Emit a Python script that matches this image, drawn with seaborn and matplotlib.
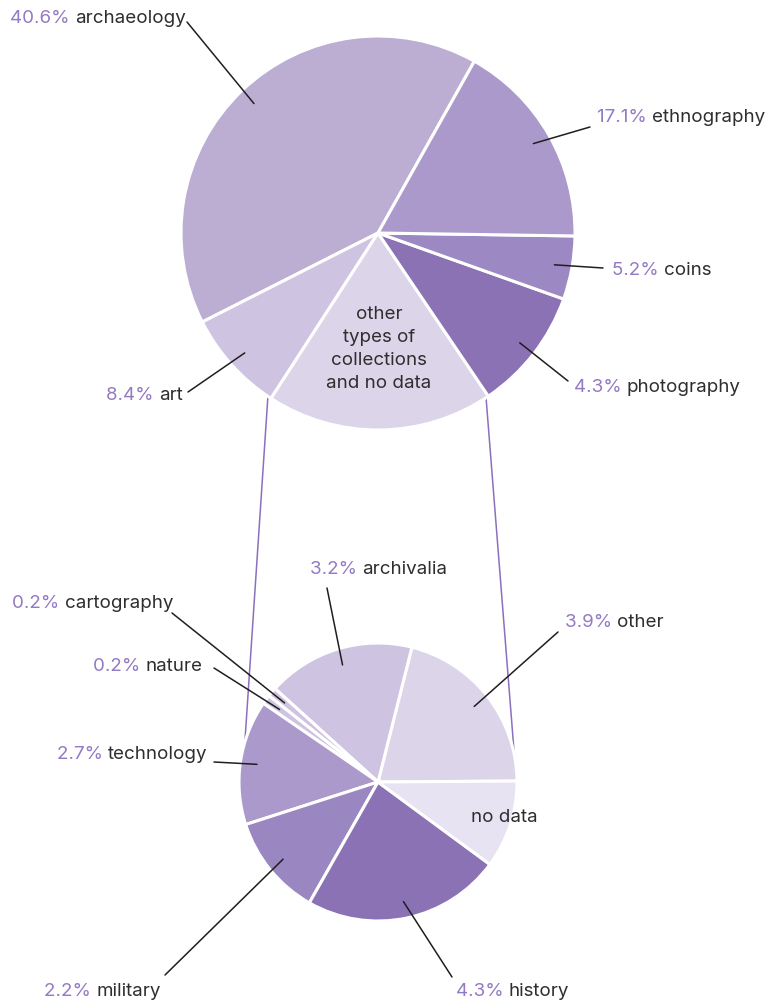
import numpy as np
import matplotlib
matplotlib.use("Agg")
import matplotlib.pyplot as plt
import seaborn as sns

# ---- data ---------------------------------------------------------------
# main pie (counter-clockwise from the top-right edge of "archaeology")
main_names = ["archaeology", "art", "other types", "photography", "coins", "ethnography"]
main_shares = [40.6, 8.4, 18.6, 10.1, 5.2, 17.1]
main_pct_labels = ["40.6%", "8.4%", None, "4.3%", "5.2%", "17.1%"]

# breakdown of "other types of collections and no data"
sub_names = ["other", "archivalia", "cartography", "nature", "technology",
             "military", "history", "no data"]
sub_shares = [3.9, 3.2, 0.2, 0.2, 2.7, 2.2, 4.3, 1.9]
sub_pct_labels = ["3.9%", "3.2%", "0.2%", "0.2%", "2.7%", "2.2%", "4.3%", None]

# ---- style --------------------------------------------------------------
sns.set_theme(style="white")
plt.rcParams["font.family"] = ["Inter", "DejaVu Sans"]

W, H = 773, 1005
PCT_COLOR = "#9479c4"
TEXT_COLOR = "#2e2e2e"
LINK_COLOR = "#8a70bd"
FS = 13.5

main_colors = ["#bcaed3", "#cec4e1", "#dcd5ea", "#8b72b4", "#9c88c2", "#aa99ca"]
sub_colors = ["#dcd5ea", "#cec4e1", "#cec4e1", "#cec4e1", "#aa99ca",
              "#9a86c0", "#8b72b4", "#e8e3f2"]

fig = plt.figure(figsize=(W / 100, H / 100), dpi=100)
ax = fig.add_axes([0, 0, 1, 1])


def up(y):
    """convert a top-down pixel row into the axes' y-up coordinate"""
    return H - y


main_center, main_r = (378, up(233)), 197
sub_center, sub_r = (378, up(782)), 139

# connector lines between the two pies (drawn beneath the wedges)
ax.plot([268, 243], [up(395), up(770)], color=LINK_COLOR, lw=1.1, zorder=0.5)
ax.plot([486, 516], [up(397), up(776)], color=LINK_COLOR, lw=1.1, zorder=0.5)

wedge_kw = dict(edgecolor="white", linewidth=2.2)
main_wedges, _ = ax.pie(main_shares, colors=main_colors, startangle=60.7,
                        counterclock=True, center=main_center, radius=main_r,
                        wedgeprops=wedge_kw, normalize=True)
sub_wedges, _ = ax.pie(sub_shares, colors=sub_colors, startangle=0.4,
                       counterclock=True, center=sub_center, radius=sub_r,
                       wedgeprops=wedge_kw, normalize=True)

ax.set_xlim(0, W)
ax.set_ylim(0, H)
ax.set_aspect("auto")
ax.axis("off")

fig.canvas.draw()
renderer = fig.canvas.get_renderer()


def two_tone(x, y, pct, name):
    """percentage in purple followed by the category name in dark grey"""
    t = ax.text(x, y, pct + " ", color=PCT_COLOR, fontsize=FS,
                ha="left", va="center")
    bb = t.get_window_extent(renderer=renderer)
    ax.text(bb.x1, y, name, color=TEXT_COLOR, fontsize=FS,
            ha="left", va="center")


def leader(wedge, frac, start):
    """line from a label to a point inside the wedge on its mid angle"""
    mid = np.deg2rad((wedge.theta1 + wedge.theta2) / 2)
    cx, cy = wedge.center
    r = wedge.r * frac
    ax.plot([start[0], cx + r * np.cos(mid)], [start[1], cy + r * np.sin(mid)],
            color="#1f1f1f", lw=1.1, zorder=5)


# label anchors (left x, centre row) and leader starting points
main_label_pos = {
    "archaeology": (10, 18, (187, 22)),
    "art": (106, 395, (188, 392)),
    "photography": (574, 387, (568, 381)),
    "coins": (612, 270, (603, 268)),
    "ethnography": (597, 117, (590, 127)),
}
sub_label_pos = {
    "other": (565, 622, (558, 632)),
    "archivalia": (310, 569, (327, 588)),
    "cartography": (12, 603, (172, 613)),
    "nature": (93, 666, (214, 668)),
    "technology": (57, 754, (214, 762)),
    "military": (44, 991, (165, 975)),
    "history": (456, 991, (452, 977)),
}

for w, name, pct in zip(main_wedges, main_names, main_pct_labels):
    if name in main_label_pos:
        lx, ly, (sx, sy) = main_label_pos[name]
        two_tone(lx, up(ly), pct, name)
        leader(w, 0.91, (sx, up(sy)))

for w, name, pct in zip(sub_wedges, sub_names, sub_pct_labels):
    if name in sub_label_pos:
        lx, ly, (sx, sy) = sub_label_pos[name]
        two_tone(lx, up(ly), pct, name)
        leader(w, 0.88, (sx, up(sy)))

# text inside the wedges
ax.text(379, up(349), "other\ntypes of\ncollections\nand no data",
        ha="center", va="center", color=TEXT_COLOR, fontsize=FS,
        linespacing=1.48)
ax.text(471, up(817), "no data", ha="left", va="center",
        color=TEXT_COLOR, fontsize=FS)

fig.savefig("out.png", dpi=100, facecolor="white")
